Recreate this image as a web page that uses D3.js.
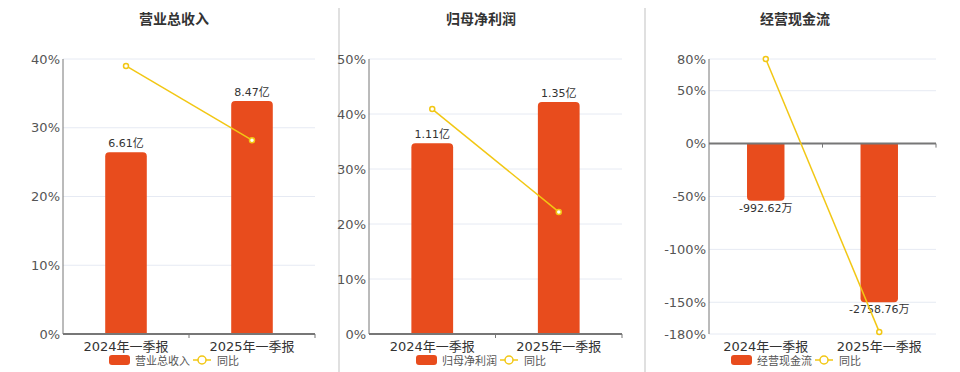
<!DOCTYPE html>
<html lang="zh">
<head>
<meta charset="utf-8">
<script src="https://d3js.org/d3.v7.min.js"></script>
<style>
  body { margin: 0; background: #fff; font-family: "DejaVu Sans", "Noto Sans CJK SC", sans-serif; }
  .title { font-size: 14px; font-weight: bold; fill: #333; text-anchor: middle; font-family: "Noto Sans CJK SC", sans-serif; }
  .tick-label { font-size: 13px; fill: #555; }
  .cat-label { font-size: 13px; fill: #333; text-anchor: middle; }
  .val-label { font-size: 11px; fill: #333; text-anchor: middle; }
  .legend { font-size: 11px; fill: #555; }
</style>
</head>
<body>
<script>

// data
var categories = ["2024年一季报", "2025年一季报"];

var revenueValues = [6.61, 8.47];
var revenueLabels = ["6.61亿", "8.47亿"];
var revenueYoy = [39.0, 28.2];
var revenueTicks = [0, 10, 20, 30, 40];

var profitValues = [1.11, 1.35];
var profitLabels = ["1.11亿", "1.35亿"];
var profitYoy = [40.9, 22.2];
var profitTicks = [0, 10, 20, 30, 40, 50];

var cashValues = [-992.62, -2758.76];
var cashLabels = ["-992.62万", "-2758.76万"];
var cashYoy = [80, -178];
var cashTicks = [80, 50, 0, -50, -100, -150, -180];

// display constants
var width = 960, height = 372;
var barColor = "#e84c1d";
var lineColor = "#f2c714";
var gridColor = "#e6eaf3";
var plotTop = 59, plotBottom = 334;

var svg = d3.select("body").append("svg")
  .attr("width", width)
  .attr("height", height);

// panel dividers
[339, 645].forEach(function(x) {
  svg.append("line")
    .attr("x1", x).attr("x2", x)
    .attr("y1", 8).attr("y2", height)
    .attr("stroke", "#d6d6d6")
    .attr("stroke-width", 1.5);
});

var panels = [
  { title: "营业总收入", titleX: 174, left: 63, right: 315, legendX: 109,
    values: revenueValues, labels: revenueLabels, yoy: revenueYoy, ticks: revenueTicks,
    yoyDomain: [0, 40], barDomain: [0, 10] },
  { title: "归母净利润", titleX: 481, left: 369, right: 622, legendX: 416,
    values: profitValues, labels: profitLabels, yoy: profitYoy, ticks: profitTicks,
    yoyDomain: [0, 50], barDomain: [0, 1.6] },
  { title: "经营现金流", titleX: 795, left: 709, right: 936, legendX: 731,
    values: cashValues, labels: cashLabels, yoy: cashYoy, ticks: cashTicks,
    yoyDomain: [-180, 80], barDomain: [-3310, 1470] }
];

panels.forEach(drawPanel);

function drawPanel(p) {
  var g = svg.append("g");

  g.append("text")
    .attr("class", "title")
    .attr("x", p.titleX)
    .attr("y", 24)
    .text(p.title);

  var x = d3.scaleBand()
    .domain(categories)
    .range([p.left, p.right]);

  var y = d3.scaleLinear().domain(p.yoyDomain).range([plotBottom, plotTop]);
  var yBar = d3.scaleLinear().domain(p.barDomain).range([plotBottom, plotTop]);

  // grid
  g.selectAll(".grid")
    .data(p.ticks)
    .enter().append("line")
    .attr("x1", p.left).attr("x2", p.right)
    .attr("y1", function(d) { return y(d); })
    .attr("y2", function(d) { return y(d); })
    .attr("stroke", gridColor)
    .attr("stroke-width", 1);

  g.selectAll(".tick-label")
    .data(p.ticks)
    .enter().append("text")
    .attr("class", "tick-label")
    .attr("x", p.left - 3)
    .attr("y", function(d) { return y(d) + 4.5; })
    .attr("text-anchor", "end")
    .text(function(d) { return d + "%"; });

  // y axis line
  g.append("line")
    .attr("x1", p.left).attr("x2", p.left)
    .attr("y1", plotTop).attr("y2", plotBottom)
    .attr("stroke", "#777").attr("stroke-width", 1);

  // bars (rounded at the far end)
  var bw = x.bandwidth() * 0.33;
  var r = 4;
  g.selectAll(".bar")
    .data(p.values)
    .enter().append("path")
    .attr("fill", barColor)
    .attr("d", function(d, i) {
      var cx = x(categories[i]) + x.bandwidth() / 2;
      var x0 = cx - bw / 2, x1 = cx + bw / 2;
      var y0 = yBar(0), y1 = yBar(d);
      var s = d >= 0 ? 1 : -1;
      return "M" + x0 + "," + y0 +
        "L" + x0 + "," + (y1 + s * r) +
        "Q" + x0 + "," + y1 + " " + (x0 + r) + "," + y1 +
        "L" + (x1 - r) + "," + y1 +
        "Q" + x1 + "," + y1 + " " + x1 + "," + (y1 + s * r) +
        "L" + x1 + "," + y0 + "Z";
    });

  g.selectAll(".val-label")
    .data(p.values)
    .enter().append("text")
    .attr("class", "val-label")
    .attr("x", function(d, i) { return x(categories[i]) + x.bandwidth() / 2; })
    .attr("y", function(d) { return d >= 0 ? yBar(d) - 5 : yBar(d) + 11; })
    .text(function(d, i) { return p.labels[i]; });

  // x axis at zero
  var zy = y(0);
  g.append("line")
    .attr("x1", p.left).attr("x2", p.right)
    .attr("y1", zy).attr("y2", zy)
    .attr("stroke", "#777").attr("stroke-width", 2);
  var bounds = [x(categories[1]), p.right];
  g.selectAll(".xtick")
    .data(bounds)
    .enter().append("line")
    .attr("x1", function(d) { return d; })
    .attr("x2", function(d) { return d; })
    .attr("y1", zy).attr("y2", zy + 4)
    .attr("stroke", "#777").attr("stroke-width", 1);

  g.selectAll(".cat-label")
    .data(categories)
    .enter().append("text")
    .attr("class", "cat-label")
    .attr("x", function(d) { return x(d) + x.bandwidth() / 2; })
    .attr("y", 351)
    .text(function(d) { return d; });

  // yoy line
  var line = d3.line()
    .x(function(d, i) { return x(categories[i]) + x.bandwidth() / 2; })
    .y(function(d) { return y(d); });
  g.append("path")
    .datum(p.yoy)
    .attr("d", line)
    .attr("fill", "none")
    .attr("stroke", lineColor)
    .attr("stroke-width", 1.5);
  g.selectAll(".dot")
    .data(p.yoy)
    .enter().append("circle")
    .attr("cx", function(d, i) { return x(categories[i]) + x.bandwidth() / 2; })
    .attr("cy", function(d) { return y(d); })
    .attr("r", 2.5)
    .attr("fill", "#fff")
    .attr("stroke", lineColor)
    .attr("stroke-width", 1.5);

  // legend
  var lg = g.append("g").attr("transform", "translate(" + p.legendX + ",355)");
  lg.append("rect")
    .attr("width", 21).attr("height", 10).attr("rx", 3)
    .attr("fill", barColor);
  lg.append("text").attr("class", "legend")
    .attr("x", 26).attr("y", 9.5).text(p.title);
  lg.append("line")
    .attr("x1", 84).attr("x2", 102).attr("y1", 5).attr("y2", 5)
    .attr("stroke", lineColor).attr("stroke-width", 1.5);
  lg.append("circle")
    .attr("cx", 93).attr("cy", 5).attr("r", 4)
    .attr("fill", "#fff").attr("stroke", lineColor).attr("stroke-width", 1.5);
  lg.append("text").attr("class", "legend")
    .attr("x", 108).attr("y", 9.5).text("同比");
}
</script>
</body>
</html>
